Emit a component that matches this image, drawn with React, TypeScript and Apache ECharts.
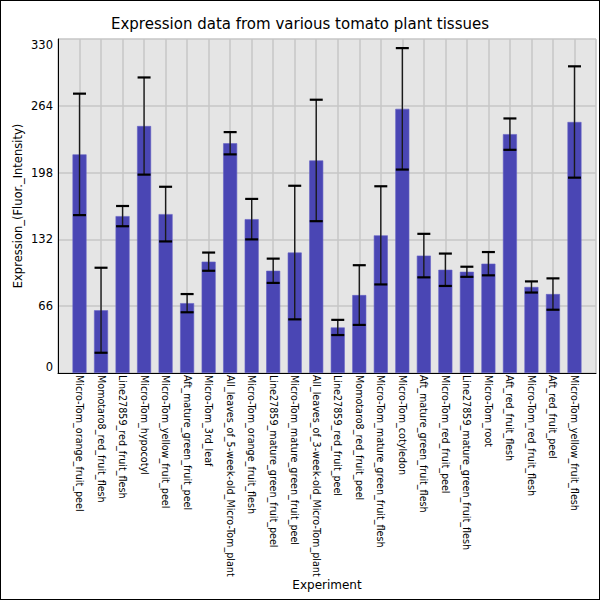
import React, { useEffect, useRef } from "react";
import * as echarts from "echarts";

const categories = [
  "Micro-Tom_orange_fruit_peel",
  "Momotaro8_red_fruit_flesh",
  "Line27859_red_fruit_flesh",
  "Micro-Tom_hypocotyl",
  "Micro-Tom_yellow_fruit_peel",
  "Aft_mature_green_fruit_peel",
  "Micro-Tom_3rd_leaf",
  "All_leaves_of_5-week-old_Micro-Tom_plant",
  "Micro-Tom_orange_fruit_flesh",
  "Line27859_mature_green_fruit_peel",
  "Micro-Tom_mature_green_fruit_peel",
  "All_leaves_of_3-week-old_Micro-Tom_plant",
  "Line27859_red_fruit_peel",
  "Momotaro8_red_fruit_peel",
  "Micro-Tom_mature_green_fruit_flesh",
  "Micro-Tom_cotyledon",
  "Aft_mature_green_fruit_flesh",
  "Micro-Tom_red_fruit_peel",
  "Line27859_mature_green_fruit_flesh",
  "Micro-Tom_root",
  "Aft_red_fruit_flesh",
  "Micro-Tom_red_fruit_flesh",
  "Aft_red_fruit_peel",
  "Micro-Tom_yellow_fruit_flesh",
];

const means = [216, 62, 155, 244, 157, 69, 110, 227, 152, 101, 119, 210, 45, 77, 136, 261, 116, 102, 100, 108, 236, 85, 78, 248];
const errors = [60, 42, 10, 48, 27, 9, 9, 11, 20, 12, 66, 60, 7.5, 29.5, 48.5, 60, 21.5, 16, 5, 11.5, 15.5, 5.5, 15.5, 55];

const yTicks = [0, 66, 132, 198, 264, 330];

const FONT = "DejaVu Sans";

export default function App() {
  const ref = useRef<HTMLDivElement>(null);

  useEffect(() => {
    document.body.style.margin = "0";
    if (!ref.current) return;
    const chart = echarts.init(ref.current, undefined, { renderer: "svg" });

    const barData = means.map((m, i) => [i, m]);
    const errData = means.map((m, i) => [i, m - errors[i], m + errors[i]]);

    const option: any = {
      animation: false,
      backgroundColor: "#ffffff",
      title: {
        text: "Expression data from various tomato plant tissues",
        left: "center",
        top: 10,
        textStyle: { fontFamily: FONT, fontSize: 15, fontWeight: "normal", color: "#000" },
      },
      grid: {
        left: 57,
        right: 3,
        top: 38,
        bottom: 226,
        show: true,
        backgroundColor: "#e5e5e5",
        borderWidth: 0,
        containLabel: false,
        outerBoundsMode: "none",
      },
      xAxis: {
        type: "value",
        min: -1,
        max: 24,
        interval: 1,
        name: "Experiment",
        nameLocation: "middle",
        nameGap: 206,
        nameMoveOverlap: false,
        nameTextStyle: { fontFamily: FONT, fontSize: 12, color: "#000" },
        axisLine: { show: true, onZero: false, lineStyle: { color: "#000", width: 1 } },
        axisTick: { show: false },
        splitLine: { show: true, lineStyle: { color: "#c6c6c6", width: 1.5 } },
        axisLabel: {
          rotate: -90,
          margin: 2,
          showMinLabel: true,
          showMaxLabel: true,
          hideOverlap: false,
          fontFamily: FONT,
          fontSize: 9.6,
          color: "#000",
          formatter: (v: number) => categories[v] ?? "",
        },
      },
      yAxis: {
        type: "value",
        min: 0,
        max: 330,
        interval: 66,
        name: "Expression_(Fluor._Intensity)",
        nameLocation: "middle",
        nameGap: 34,
        nameMoveOverlap: false,
        nameTextStyle: { fontFamily: FONT, fontSize: 11.5, color: "#000" },
        axisLine: { show: true, onZero: false, lineStyle: { color: "#000", width: 1 } },
        axisTick: { show: false },
        splitLine: { show: true, lineStyle: { color: "#c6c6c6", width: 1.5 } },
        axisLabel: {
          fontFamily: FONT,
          fontSize: 11.5,
          color: "#000",
          margin: 5,
          verticalAlignMinLabel: "bottom",
          verticalAlignMaxLabel: "top",
          formatter: (v: number) => (yTicks.includes(v) ? String(v) : ""),
        },
      },
      series: [
        {
          type: "bar",
          data: barData,
          barWidth: 14,
          z: 2,
          itemStyle: { color: "#4a46b4", borderColor: "#6561c4", borderWidth: 0.6 },
        },
        {
          type: "custom",
          z: 3,
          data: errData,
          encode: { x: 0, y: [1, 2] },
          renderItem: (params: any, api: any) => {
            const x = api.value(0);
            const lo = api.coord([x, api.value(1)]);
            const hi = api.coord([x, api.value(2)]);
            const cx = lo[0];
            const half = 6.5;
            const style = { stroke: "#1a1a1a", lineWidth: 1.4 };
            const cap = { stroke: "#000", lineWidth: 2.2 };
            return {
              type: "group",
              children: [
                { type: "line", shape: { x1: cx, y1: hi[1], x2: cx, y2: lo[1] }, style },
                { type: "line", shape: { x1: cx - half, y1: hi[1], x2: cx + half, y2: hi[1] }, style: cap },
                { type: "line", shape: { x1: cx - half, y1: lo[1], x2: cx + half, y2: lo[1] }, style: cap },
              ],
            };
          },
        },
      ],
    };

    chart.setOption(option);
    return () => chart.dispose();
  }, []);

  return (
    <div
      ref={ref}
      style={{ width: 600, height: 600, border: "1px solid #000", boxSizing: "border-box" }}
    />
  );
}
